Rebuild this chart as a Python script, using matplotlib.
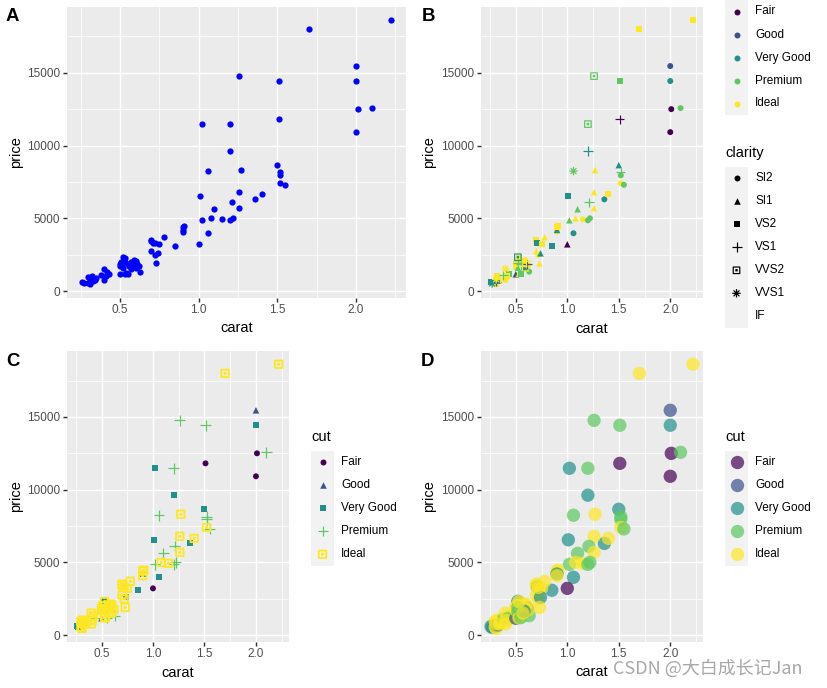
import numpy as np
import matplotlib.pyplot as plt
from matplotlib.path import Path

plt.rcParams['font.family'] = ['Liberation Sans', 'DejaVu Sans']

# sample of the diamonds data
carat = [2.22, 1.70, 2.00, 2.00, 1.51, 1.26, 2.01, 2.10, 1.51, 1.20,
         1.02, 2.00, 1.20, 1.06, 1.27, 1.50, 1.52, 1.52, 1.52, 1.55,
         1.01, 1.36, 1.40, 1.26, 1.21, 1.26, 1.10, 1.02, 1.08, 1.15,
         1.20, 1.22, 1.06, 1.00, 0.85, 0.90, 0.91, 0.90, 0.90, 0.78,
         0.70, 0.71, 0.75, 0.70, 0.72, 0.74, 0.73, 0.72,
         0.26, 0.27, 0.30, 0.32, 0.31, 0.31, 0.30, 0.33, 0.34, 0.35,
         0.38, 0.40, 0.42, 0.43, 0.40, 0.41, 0.50, 0.50, 0.52, 0.53,
         0.54, 0.55, 0.57, 0.59, 0.60, 0.61, 0.63, 0.50, 0.51, 0.52,
         0.56, 0.58, 0.60, 0.62, 0.53, 0.55, 0.58, 0.52, 0.53, 0.70,
         0.31, 0.57]
price = [18630, 18000, 15460, 14430, 14430, 14770, 12500, 12570, 11810, 11470,
         11470, 10920, 9620, 8240, 8310, 8650, 8150, 7950, 7400, 7300,
         6550, 6300, 6650, 6790, 6100, 5690, 5620, 4860, 5000, 4930,
         4860, 5000, 3970, 3210, 3080, 4400, 4460, 4200, 4080, 3700,
         3500, 3300, 3210, 2750, 2480, 2590, 1900, 3280,
         600, 520, 940, 1030, 450, 640, 560, 700, 760, 870,
         1100, 1510, 1330, 1150, 760, 1000, 1840, 1150, 2320, 2020,
         1220, 1840, 2020, 2130, 1560, 1840, 1330, 1700, 2000, 1600,
         1750, 1900, 2050, 1750, 1180, 1200, 1650, 1900, 2300, 3420,
         800, 1500]
cut = ['Ideal', 'Ideal', 'Good', 'Very Good', 'Premium', 'Premium', 'Fair', 'Premium', 'Fair', 'Premium',
       'Very Good', 'Fair', 'Very Good', 'Premium', 'Ideal', 'Very Good', 'Premium', 'Premium', 'Ideal', 'Premium',
       'Very Good', 'Very Good', 'Ideal', 'Ideal', 'Premium', 'Ideal', 'Premium', 'Premium', 'Ideal', 'Ideal',
       'Premium', 'Premium', 'Very Good', 'Fair', 'Very Good', 'Ideal', 'Ideal', 'Very Good', 'Ideal', 'Ideal',
       'Ideal', 'Very Good', 'Ideal', 'Ideal', 'Ideal', 'Very Good', 'Ideal', 'Ideal',
       'Very Good', 'Very Good', 'Ideal', 'Ideal', 'Ideal', 'Good', 'Ideal', 'Very Good', 'Ideal', 'Ideal',
       'Premium', 'Ideal', 'Ideal', 'Premium', 'Ideal', 'Ideal', 'Ideal', 'Good', 'Very Good', 'Ideal',
       'Ideal', 'Premium', 'Ideal', 'Ideal', 'Ideal', 'Good', 'Premium', 'Ideal', 'Ideal', 'Premium',
       'Ideal', 'Ideal', 'Ideal', 'Ideal', 'Ideal', 'Premium', 'Very Good', 'Premium', 'Ideal', 'Ideal',
       'Ideal', 'Ideal']
clarity = ['VS2', 'VS2', 'SI2', 'SI2', 'VS2', 'VVS2', 'SI2', 'SI2', 'VS1', 'VVS2',
           'IF', 'SI2', 'VS1', 'VVS1', 'SI1', 'SI1', 'VS1', 'SI2', 'SI2', 'SI2',
           'VS2', 'SI2', 'VS2', 'SI1', 'VS1', 'SI1', 'SI1', 'SI1', 'SI1', 'SI2',
           'SI2', 'SI2', 'SI2', 'SI1', 'VS2', 'VS2', 'VS2', 'SI1', 'SI2', 'SI1',
           'VS2', 'VS2', 'VS2', 'SI1', 'SI2', 'SI1', 'SI1', 'SI2',
           'VS2', 'VVS1', 'SI1', 'VS2', 'VS2', 'VS1', 'SI2', 'VS2', 'SI1', 'VS1',
           'VS1', 'VVS1', 'SI1', 'VS2', 'SI2', 'VS2', 'VS2', 'SI1', 'VVS2', 'VS2',
           'SI2', 'VS1', 'SI1', 'SI2', 'SI1', 'VS1', 'SI2', 'SI1', 'SI2', 'SI1',
           'VS1', 'VS2', 'VS1', 'SI2', 'SI1', 'VS2', 'SI1', 'VS1', 'VS2', 'SI1',
           'VVS1', 'IF']

cut_levels = ['Fair', 'Good', 'Very Good', 'Premium', 'Ideal']
clarity_levels = ['SI2', 'SI1', 'VS2', 'VS1', 'VVS2', 'VVS1', 'IF']
cut_colors = ['#440154', '#3B528B', '#21908C', '#5DC863', '#FDE725']
x_ticks = [0.5, 1.0, 1.5, 2.0]
y_ticks = [0, 5000, 10000, 15000]
x_minor = [0.25, 0.75, 1.25, 1.75, 2.25]
y_minor = [2500, 7500, 12500, 17500]

carat = np.array(carat)
price = np.array(price)
cut = np.array(cut)
clarity = np.array(clarity)
cut_col = dict(zip(cut_levels, cut_colors))

# ggplot shapes 16, 17, 15, 3, 7, 8  -> (marker, kind, size)
# shape 7 at this size reads as a box with a dot in it
box_dot = Path([(-1, -1), (1, -1), (1, 1), (-1, 1), (-1, -1),
                (-0.3, -0.3), (0.3, 0.3), (-0.3, 0.3), (0.3, -0.3)],
               [Path.MOVETO, Path.LINETO, Path.LINETO, Path.LINETO, Path.CLOSEPOLY,
                Path.MOVETO, Path.LINETO, Path.MOVETO, Path.LINETO])
star8 = Path([(-1, 0), (1, 0), (0, -1), (0, 1), (-0.7, -0.7), (0.7, 0.7), (-0.7, 0.7), (0.7, -0.7)],
             [Path.MOVETO, Path.LINETO] * 4)
SHAPES = [('o', 'fill', 20), ('^', 'fill', 24), ('s', 'fill', 20),
          ('+', 'line', 48), (box_dot, 'open', 24), (star8, 'open', 40)]

W, H = 827, 688
fig = plt.figure(figsize=(W / 96, H / 96), dpi=96)


def px(x0, y0, x1, y1):
    return [x0 / W, 1 - y1 / H, (x1 - x0) / W, (y1 - y0) / H]


def expand(v):
    r = v.max() - v.min()
    return v.min() - 0.05 * r, v.max() + 0.05 * r


def shape_scatter(ax, xs, ys, cols, k, scale=1.0, lw=0.9):
    m, kind, s = SHAPES[k]
    if kind == 'fill':
        ax.scatter(xs, ys, s=s * scale, c=cols, marker=m, linewidths=0)
    elif kind == 'line':
        ax.scatter(xs, ys, s=s * scale, c=cols, marker=m, linewidths=lw)
    else:
        ax.scatter(xs, ys, s=s * scale, facecolors='none', edgecolors=cols,
                   marker=m, linewidths=lw)


def setup(ax, xlab_y, ylab_x):
    ax.set_facecolor('#EBEBEB')
    for sp in ax.spines.values():
        sp.set_visible(False)
    ax.set_xlim(*expand(carat))
    ax.set_ylim(*expand(price))
    ax.set_xticks(x_ticks)
    ax.set_xticklabels(['0.5', '1.0', '1.5', '2.0'])
    ax.set_yticks(y_ticks)
    ax.set_xticks(x_minor, minor=True)
    ax.set_yticks(y_minor, minor=True)
    ax.grid(which='major', color='white', linewidth=1.07)
    ax.grid(which='minor', color='white', linewidth=0.53)
    ax.set_axisbelow(True)
    ax.tick_params(which='major', length=2.75, width=1.07, color='#333333',
                   labelsize=8.8, labelcolor='#4D4D4D', pad=2.2)
    ax.tick_params(which='minor', length=0)
    ax.set_xlabel('carat', fontsize=11)
    ax.set_ylabel('price', fontsize=11)
    ax.xaxis.set_label_coords(0.5, xlab_y)
    ax.yaxis.set_label_coords(ylab_x, 0.5)
    ax.xaxis.label.set_va('center')
    ax.yaxis.label.set_va('center')


def legend_box(x0, top, labels, draw_key, title=None):
    n = len(labels)
    lg = fig.add_axes(px(x0, top, x0 + 23, top + 23 * n))
    lg.set_facecolor('#F2F2F2')
    lg.set_xlim(0, 1)
    lg.set_ylim(n, 0)
    lg.set_xticks([])
    lg.set_yticks([])
    for sp in lg.spines.values():
        sp.set_visible(False)
    for i, lab in enumerate(labels):
        draw_key(lg, i)
        lg.text(1.32, i + 0.5, lab, va='center', ha='left', fontsize=8.8, clip_on=False)
    if title:
        lg.text(0, -0.6, title, va='center', ha='left', fontsize=11, clip_on=False)
    return lg


cols_all = [cut_col[c] for c in cut]

# A: plain blue points
axA = fig.add_axes(px(66.7, 6.7, 406, 297.7))
setup(axA, -0.104, -0.150)
axA.scatter(carat, price, s=22, color='blue', linewidths=0)

# B: colour = cut, shape = clarity (IF has no shape -> dropped)
axB = fig.add_axes(px(481, 6.7, 703, 297.7))
setup(axB, -0.107, -0.234)
for k, cl in enumerate(clarity_levels[:6]):
    sel = clarity == cl
    shape_scatter(axB, carat[sel], price[sel], [cut_col[c] for c in cut[sel]], k)

legend_box(725, 0, cut_levels,
           lambda a, i: a.scatter([0.5], [i + 0.5], s=20, color=cut_colors[i], linewidths=0))


def clarity_key(a, i):
    if i < 6:
        shape_scatter(a, [0.5], [i + 0.5], ['black'], i)


legend_box(725, 166.8, clarity_levels, clarity_key, title='clarity')

# C: colour and shape = cut
axC = fig.add_axes(px(66.7, 351, 288.7, 641.7))
setup(axC, -0.107, -0.23)
cut_shapes = [0, 1, 2, 3, 4]


def c_key(ax, xs, ys, i):
    k = cut_shapes[i]
    sc = 1.3 if k >= 3 else 1.0
    lw = 1.4 if k == 4 else 0.9
    shape_scatter(ax, xs, ys, [cut_colors[i]] * len(xs), k, scale=sc, lw=lw)


for i, cname in enumerate(cut_levels):
    sel = cut == cname
    c_key(axC, carat[sel], price[sel], i)

legend_box(311, 450.8, cut_levels, lambda a, i: c_key(a, [0.5], [i + 0.5], i), title='cut')

# D: big translucent points coloured by cut
axD = fig.add_axes(px(481, 351, 703, 641.7))
setup(axD, -0.103, -0.234)
axD.scatter(carat, price, s=100, c=cols_all, alpha=0.7, linewidths=0)

legend_box(725, 450.8, cut_levels,
           lambda a, i: a.scatter([0.5], [i + 0.5], s=100, color=cut_colors[i], alpha=0.7,
                                  linewidths=0),
           title='cut')

# panel tags
for tag, x, y in [('A', 6, 16.5), ('B', 421.5, 16.5), ('C', 6.5, 361), ('D', 421, 361)]:
    fig.text(x / W, 1 - y / H, tag, fontsize=14, fontweight='bold', va='center', ha='left')

fig.text(613 / W, 1 - 669 / H, 'CSDN @大白成长记Jan', fontsize=13.5, color='#A8A8A8',
         family=['Noto Sans CJK SC', 'DejaVu Sans'], va='center', ha='left')

fig.savefig('out.png', dpi=96)
